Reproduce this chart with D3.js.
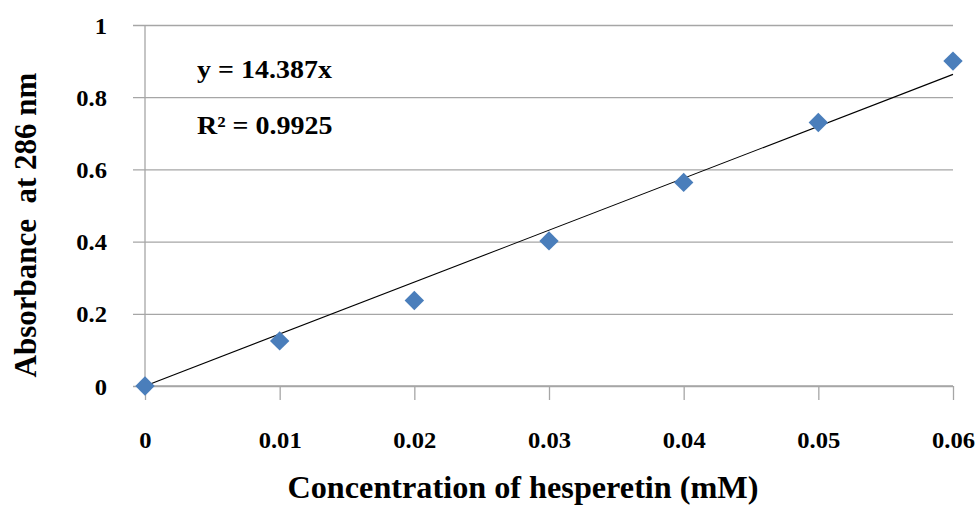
<!DOCTYPE html>
<html>
<head>
<meta charset="utf-8">
<script src="https://cdn.jsdelivr.net/npm/d3@7"></script>
<style>
  body { margin: 0; background: #fff; }
  svg { display: block; }
  text { font-family: "Liberation Serif", "Times New Roman", serif; font-weight: bold; fill: #000; }
</style>
</head>
<body>
<svg id="chart" width="979" height="507"></svg>
<script>
// Hesperetin calibration data
const concentration = [0, 0.01, 0.02, 0.03, 0.04, 0.05, 0.06];
const absorbance = [0.0, 0.125, 0.237, 0.402, 0.564, 0.730, 0.900];
const xTicks = [0, 0.01, 0.02, 0.03, 0.04, 0.05, 0.06];
const yTicks = [0, 0.2, 0.4, 0.6, 0.8, 1];
const slope = 14.387;
const rSquared = "0.9925";

const svg = d3.select("#chart");
const margin = { left: 145, right: 26, top: 25, bottom: 121 };
const W = 979, H = 507;

const x = d3.scaleLinear().domain([0, 0.06]).range([margin.left, W - margin.right]);
const y = d3.scaleLinear().domain([0, 1]).range([H - margin.bottom, margin.top]);

const gridColor = "#a6a6a6";
const fmt = d3.format("~g");

// horizontal gridlines (with outward tick stub on the left)
const yAxis = d3.axisLeft(y).tickValues(yTicks)
  .tickSize(-(x.range()[1] - x.range()[0]) - 12).tickFormat(fmt);
const gy = svg.append("g").attr("transform", `translate(${margin.left - 12},0)`).call(yAxis);
gy.select(".domain").remove();
gy.selectAll(".tick line").attr("stroke", gridColor).attr("stroke-width", 1.3);
gy.selectAll(".tick text")
  .attr("x", 0).attr("dy", "0.35em").attr("text-anchor", "end")
  .style("font-size", "23px")
  .attr("transform", "translate(-26,0) scale(1.07,1)");

// vertical axis line
svg.append("line")
  .attr("x1", x(0)).attr("x2", x(0))
  .attr("y1", y(1)).attr("y2", y(0))
  .attr("stroke", gridColor).attr("stroke-width", 1.3);

// bottom axis
const xAxis = d3.axisBottom(x).tickValues(xTicks).tickSize(14).tickFormat(fmt);
const gx = svg.append("g").attr("transform", `translate(0,${y(0)})`).call(xAxis);
gx.select(".domain").attr("stroke", gridColor).attr("stroke-width", 1.3)
  .attr("d", `M${x(0)},0H${x(0.06)}`);
gx.selectAll(".tick line").attr("stroke", gridColor).attr("stroke-width", 1.3);
gx.selectAll(".tick text")
  .attr("y", 0).attr("dy", 0)
  .style("font-size", "23px")
  .attr("transform", "translate(0,62) scale(1.07,1)");

// linear trendline through origin
svg.append("line")
  .attr("x1", x(0)).attr("y1", y(0))
  .attr("x2", x(0.06)).attr("y2", y(slope * 0.06))
  .attr("stroke", "#000").attr("stroke-width", 1.1);

// diamond markers
const diamond = d3.symbol().type(d3.symbolDiamond2).size(240);
svg.append("g").selectAll("path")
  .data(concentration.map((c, i) => [c, absorbance[i]]))
  .join("path")
  .attr("d", diamond)
  .attr("transform", d => `translate(${x(d[0])},${y(d[1])})`)
  .attr("fill", "#4a7ebb");

// equation annotations
svg.append("text").attr("transform", "translate(197,78) scale(1.12,1)")
  .style("font-size", "25px").text(`y = ${slope}x`);
svg.append("text").attr("transform", "translate(197,134) scale(1.12,1)")
  .style("font-size", "25px").text(`R² = ${rSquared}`);

// axis titles
svg.append("text").attr("transform", "translate(523,498) scale(1.04,1)")
  .attr("text-anchor", "middle").style("font-size", "31px")
  .text("Concentration of hesperetin (mM)");
svg.append("text")
  .attr("transform", "translate(36,225) rotate(-90)")
  .attr("text-anchor", "middle").style("font-size", "31px").style("white-space", "pre")
  .text("Absorbance  at 286 nm");
</script>
</body>
</html>
